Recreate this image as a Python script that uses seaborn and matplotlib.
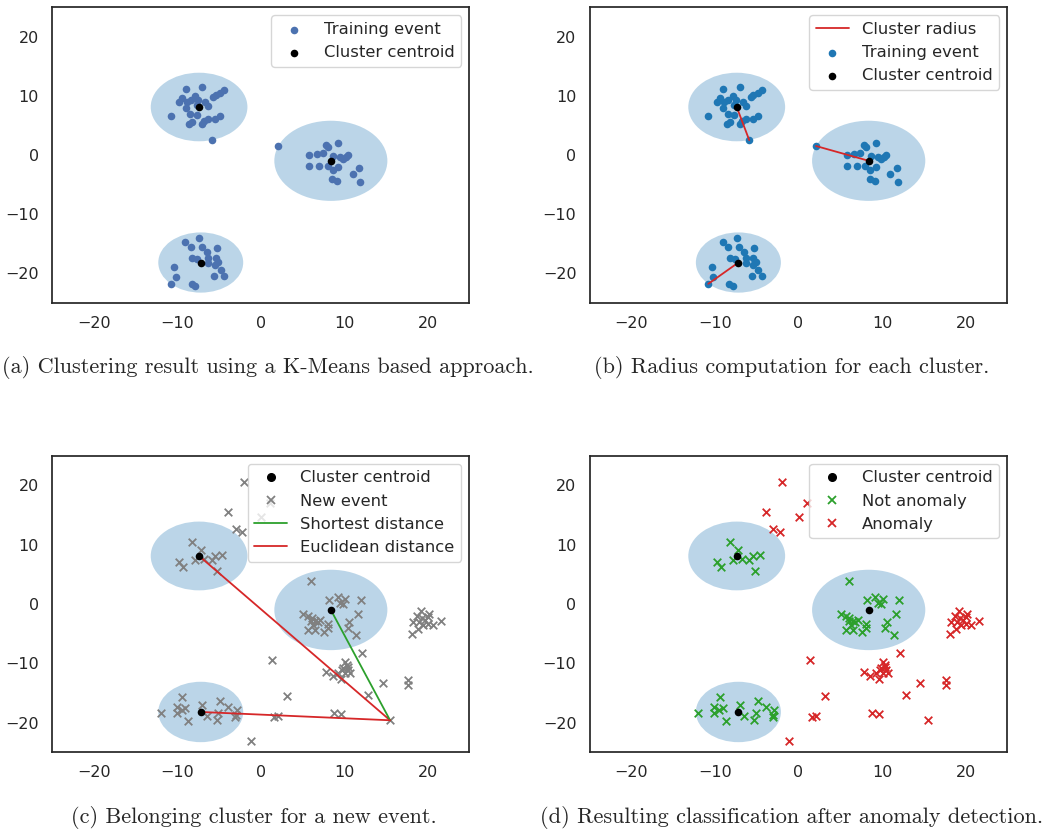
import matplotlib.pyplot as plt
import matplotlib.patches as mpatches
from matplotlib.lines import Line2D
import seaborn as sns
import numpy as np

sns.set_theme(style="white", rc={"xtick.labelsize": 11.5, "ytick.labelsize": 11.5,
                                 "legend.fontsize": 11.8})

# cluster centroids (k-means result)
centroid_x = [-7.4, 8.4, -7.2]
centroid_y = [8.1, -1.0, -18.2]

# training events, one cluster label each
train_x = [-9.0, -7.0, -4.4, -4.9, -5.4, -5.7, -7.9, -9.4, -9.8, -8.9, -8.4, -7.5, -6.7, -6.3,
           -9.0, -7.7, -10.8, -8.5, -7.7, -8.6, -8.2, -7.0, -6.8, -6.3, -5.5, -4.9, -5.9,
           2.1, 5.8, 6.7, 7.4, 7.8, 8.1, 9.3, 9.5, 10.2, 10.5, 9.9, 5.8, 7.0, 8.0, 9.3, 8.6,
           11.8, 11.0, 8.5, 9.1, 11.9, 8.7,
           -7.4, -9.1, -8.4, -7.1, -6.5, -5.3, -8.2, -7.6, -6.3, -5.4, -6.3, -5.5, -5.1, -4.8,
           -4.4, -5.6, -10.4, -10.2, -10.8, -8.3, -7.9]
train_y = [11.1, 11.4, 10.9, 10.5, 10.1, 9.8, 10.0, 9.7, 9.0, 9.0, 9.3, 9.3, 9.0, 8.2,
           8.0, 8.5, 6.5, 6.9, 6.7, 5.3, 5.5, 5.2, 5.7, 6.1, 6.0, 6.5, 2.5,
           1.5, 0.0, 0.1, 0.4, 1.6, 1.4, 2.0, -0.3, -0.3, 0.0, -0.7, -1.8, -1.8, -1.8, -2.1, -2.6,
           -2.2, -3.2, -4.0, -4.4, -4.5, -0.2,
           -14.0, -14.7, -15.5, -15.6, -16.4, -15.8, -17.5, -17.6, -17.5, -17.5, -18.3, -18.7,
           -18.1, -19.5, -20.5, -20.5, -18.9, -20.7, -21.8, -21.8, -22.2]
train_cluster = [0] * 27 + [1] * 22 + [2] * 21

# new events to classify
new_x = [-2.0, -3.9, 0.0, 1.05, -3.0, -2.2,
         -8.2, -7.2, -9.8, -9.3, -7.9, -6.8, -5.9, -5.5, -4.6, -5.2,
         6.0, 8.2, 9.2, 9.5, 10.1, 9.9, 12.0, 11.7, 5.1, 5.7, 6.1, 6.5, 7.1, 6.3, 5.7, 6.5,
         7.6, 8.1, 8.1, 10.6, 10.4, 11.4, 6.0, 6.8,
         19.2, 20.2, 18.7, 18.3, 19.0, 19.7, 20.1, 20.7, 21.6, 18.9, 18.1, 19.5, 19.3, 20.0,
         12.1, 1.4, 10.1, 10.3, 9.9, 10.5, 10.7, 10.1, 9.3, 7.8, 8.6, 9.6, 10.4, 9.7,
         14.6, 17.6, 17.6, 12.9, 3.2, 1.6, 2.1, 8.8, 9.6, 15.5, -1.2,
         -12.0, -10.1, -9.4, -10.1, -9.5, -9.1, -8.7, -7.0, -6.5, -5.3, -4.9, -3.9, -2.9,
         -3.1, -3.0, -5.1]
new_y = [20.5, 15.5, 14.7, 17.0, 12.6, 12.1,
         10.4, 9.1, 7.1, 6.3, 7.5, 7.6, 7.5, 8.1, 8.3, 5.6,
         3.9, 0.6, 1.2, 0.1, 0.9, 0.0, 0.6, -1.6, -1.7, -2.1, -2.4, -2.8, -2.7, -3.5, -4.4, -4.4,
         -4.7, -3.3, -4.1, -3.0, -4.1, -5.2, -2.9, -3.0,
         -1.2, -1.6, -2.1, -3.0, -3.0, -2.7, -3.3, -3.5, -2.8, -4.2, -5.1, -3.5, -2.4, -2.2,
         -8.2, -9.4, -9.7, -10.3, -10.8, -11.1, -11.6, -11.7, -11.6, -11.4, -12.1, -12.7,
         -10.6, -11.2,
         -13.3, -12.8, -13.7, -15.3, -15.5, -19.1, -18.9, -18.4, -18.5, -19.6, -23.1,
         -18.4, -17.3, -15.7, -18.4, -17.9, -17.6, -19.7, -17.1, -18.8, -19.6, -16.3, -17.4,
         -17.9, -19.1, -18.7, -18.4]

# the new event whose distances are shown in (c)
event_x, event_y = 15.5, -19.6
nearest_cluster = 1

captions = ["(a) Clustering result using a K-Means based approach.",
            "(b) Radius computation for each cluster.",
            "(c) Belonging cluster for a new event.",
            "(d) Resulting classification after anomaly detection."]

train_x = np.array(train_x)
train_y = np.array(train_y)
train_cluster = np.array(train_cluster)
new_x = np.array(new_x)
new_y = np.array(new_y)

# radius = farthest training event of each cluster
radius = []
far_pts = []
for k in range(3):
    px = train_x[train_cluster == k]
    py = train_y[train_cluster == k]
    d = np.hypot(px - centroid_x[k], py - centroid_y[k])
    radius.append(d.max())
    far_pts.append((px[d.argmax()], py[d.argmax()]))

# classify new events
dist = np.array([np.hypot(new_x - centroid_x[k], new_y - centroid_y[k]) for k in range(3)])
inside = (dist <= np.array(radius)[:, None]).any(axis=0)

fig = plt.figure(figsize=(10.48, 8.31), dpi=100)
rects = [[0.0499, 0.6357, 0.3979, 0.3558], [0.5627, 0.6357, 0.3985, 0.3558],
         [0.0499, 0.0947, 0.3979, 0.3569], [0.5627, 0.0947, 0.3985, 0.3569]]
axes = [fig.add_axes(r) for r in rects]

circle_color = "#1f77b4"
for ax in axes:
    for k in range(3):
        ax.add_patch(mpatches.Circle((centroid_x[k], centroid_y[k]), radius[k],
                                     color=circle_color, alpha=0.3, lw=0, zorder=1))
    ax.set_xlim(-25, 25)
    ax.set_ylim(-25, 25)
    ax.set_xticks([-20, -10, 0, 10, 20])
    ax.set_yticks([-20, -10, 0, 10, 20])

pt = dict(s=30, linewidth=0, zorder=3)
xm = dict(s=30, marker="x", linewidth=1.3, zorder=3)

# (a)
ax = axes[0]
sns.scatterplot(x=train_x, y=train_y, color="#4c72b0", label="Training event", ax=ax, **pt)
sns.scatterplot(x=centroid_x, y=centroid_y, color="black", label="Cluster centroid", ax=ax,
                s=30, linewidth=0, zorder=5)
ax.legend(loc="upper right")

# (b)
ax = axes[1]
for k in range(3):
    ax.plot([centroid_x[k], far_pts[k][0]], [centroid_y[k], far_pts[k][1]],
            color="tab:red", lw=1.3, zorder=4, label="Cluster radius" if k == 0 else None)
sns.scatterplot(x=train_x, y=train_y, color="#1f77b4", label="Training event", ax=ax, **pt)
sns.scatterplot(x=centroid_x, y=centroid_y, color="black", label="Cluster centroid", ax=ax,
                s=30, linewidth=0, zorder=5)
ax.legend(loc="upper right")

# (c)
ax = axes[2]
for k in range(3):
    col = "tab:green" if k == nearest_cluster else "tab:red"
    ax.plot([centroid_x[k], event_x], [centroid_y[k], event_y], color=col, lw=1.3, zorder=4)
sns.scatterplot(x=new_x, y=new_y, color="gray", ax=ax, **xm)
sns.scatterplot(x=centroid_x, y=centroid_y, color="black", ax=ax, s=30, linewidth=0, zorder=5)
handles = [Line2D([], [], marker="o", ls="", color="black", markersize=5.5),
           Line2D([], [], marker="x", ls="", color="gray", markersize=5.5, mew=1.3),
           Line2D([], [], color="tab:green", lw=1.3),
           Line2D([], [], color="tab:red", lw=1.3)]
ax.legend(handles, ["Cluster centroid", "New event", "Shortest distance", "Euclidean distance"],
          loc="upper right")

# (d)
ax = axes[3]
sns.scatterplot(x=new_x[inside], y=new_y[inside], color="tab:green", ax=ax, **xm)
sns.scatterplot(x=new_x[~inside], y=new_y[~inside], color="tab:red", ax=ax, **xm)
sns.scatterplot(x=centroid_x, y=centroid_y, color="black", ax=ax, s=30, linewidth=0, zorder=5)
handles = [Line2D([], [], marker="o", ls="", color="black", markersize=5.5),
           Line2D([], [], marker="x", ls="", color="tab:green", markersize=5.5, mew=1.3),
           Line2D([], [], marker="x", ls="", color="tab:red", markersize=5.5, mew=1.3)]
ax.legend(handles, ["Cluster centroid", "Not anomaly", "Anomaly"], loc="upper right")

for i, (ax, cap) in enumerate(zip(axes, captions)):
    pos = ax.get_position()
    cy = pos.y0 - 65 / 831
    if i == 0:
        # long caption: keep it inside the figure
        fig.text(2 / 1048, cy, cap, ha="left", va="center", fontsize=16, family="cmr10")
    else:
        cx = pos.x0 + pos.width / 2 - 7 / 1048
        fig.text(cx, cy, cap, ha="center", va="center", fontsize=16, family="cmr10")

fig.savefig("out.png", dpi=100)
